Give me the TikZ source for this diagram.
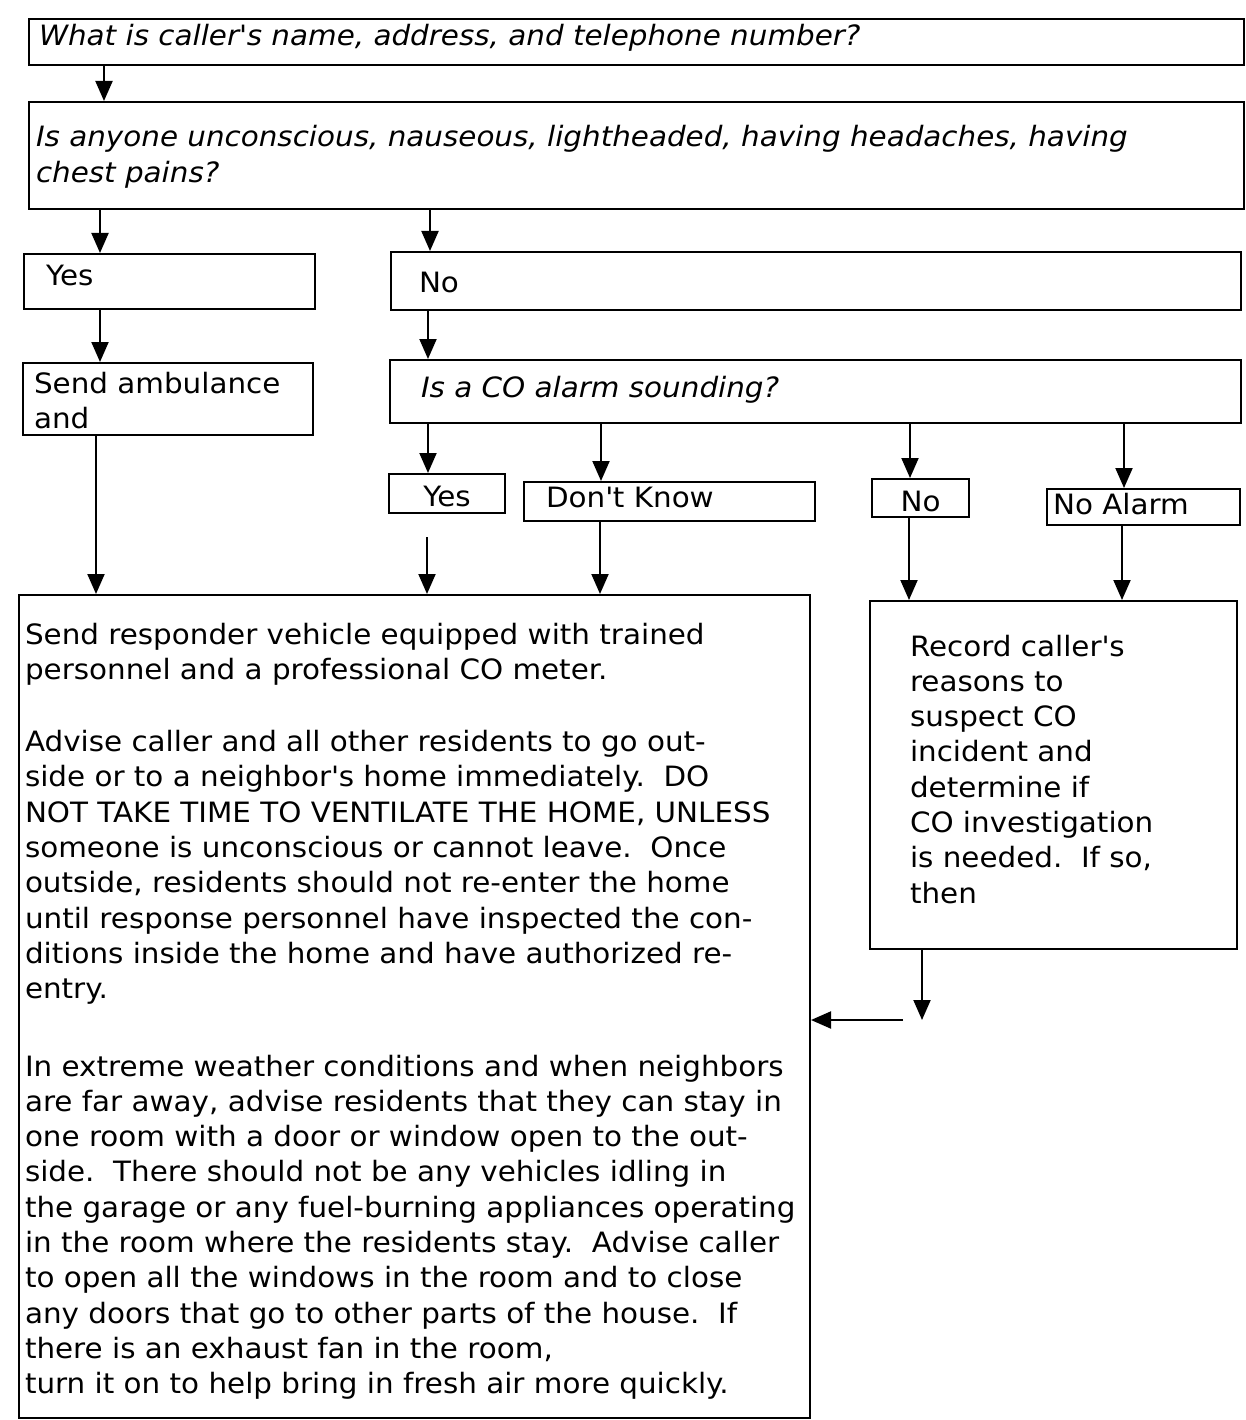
\documentclass[tikz,border=0pt]{standalone}
\usepackage{fontspec}
\setmainfont{DejaVu Sans}[FakeStretch=1.05]
\usetikzlibrary{arrows.meta}
\newcommand\apos{\textquotesingle}
\begin{document}
\begin{tikzpicture}[x=1pt, y=-1pt,
		base/.style={draw, line width=2pt, anchor=north west, inner ysep=0pt,
			align=left, font=\fontsize{28pt}{35.3pt}\selectfont},
		ask/.style={base, font=\fontsize{28pt}{35.3pt}\selectfont\itshape},
		link/.style={-{Triangle[length=20pt, width=17pt]}, draw, line width=2pt}
	]
	\useasboundingbox (0,0) rectangle (1245,1420);

	% questions
	\node[ask, minimum width=1215pt, minimum height=46pt, inner xsep=10pt,
		text width=1195pt, text height=26pt, text depth=18pt] at (28,18) (caller)
		{What is caller\apos s name, address, and telephone number?};
	\node[ask, minimum width=1215pt, minimum height=107pt, inner xsep=7pt,
		text width=1201pt, text height=44pt, text depth=61pt] at (28,101) (anyone)
		{Is anyone unconscious, nauseous, lightheaded, having headaches, having\\
		chest pains?};

	\node[base, minimum width=291pt, minimum height=55pt, inner xsep=22pt,
		text width=247pt, text height=31pt, text depth=22pt] at (23,253) (yes) {Yes};
	\node[base, minimum width=850pt, minimum height=58pt, inner xsep=28pt,
		text width=794pt, text height=40pt, text depth=16pt] at (390,251) (no) {No};
	\node[base, minimum width=290pt, minimum height=72pt, inner xsep=11pt,
		text width=268pt, text height=29pt, text depth=41pt] at (22,362) (ambulance)
		{Send ambulance\\and};
	\node[ask, minimum width=851pt, minimum height=63pt, inner xsep=31pt,
		text width=789pt, text height=36pt, text depth=25pt] at (389,359) (alarm)
		{Is a CO alarm sounding?};

	% answers to the alarm question
	\node[base, minimum width=116pt, minimum height=39pt, align=center,
		text height=31pt, text depth=6pt] at (388,473) (yesco) {Yes};
	\node[base, minimum width=291pt, minimum height=39pt, inner xsep=22pt,
		text width=247pt, text height=24.5pt, text depth=12.5pt] at (523,481) (dontknow)
		{Don\apos t Know};
	\node[base, minimum width=97pt, minimum height=38pt, align=center,
		text height=31pt, text depth=5pt] at (871,478) (noco) {No};
	\node[base, minimum width=193pt, minimum height=36pt, inner xsep=6pt,
		text width=181pt, text height=24pt, text depth=10pt] at (1046,488) (noalarm)
		{No Alarm};

	% actions
	\node[base, minimum width=791pt, minimum height=823pt, inner xsep=6pt,
		text width=779pt, text height=48pt, text depth=773pt] at (18,594) (respond)
		{Send responder vehicle equipped with trained\\
		personnel and a professional CO meter.\\[37pt]
		Advise caller and all other residents to go out-\\
		side or to a neighbor\apos s home immediately.\ \ DO\\
		NOT TAKE TIME TO VENTILATE THE HOME, UNLESS\\
		someone is unconscious or cannot leave.\ \ Once\\
		outside, residents should not re-enter the home\\
		until response personnel have inspected the con-\\
		ditions inside the home and have authorized re-\\
		entry.\\[42pt]
		In extreme weather conditions and when neighbors\\
		are far away, advise residents that they can stay in\\
		one room with a door or window open to the out-\\
		side.\ \ There should not be any vehicles idling in\\
		\mbox{the garage or any fuel-burning appliances operating}\\
		in the room where the residents stay.\ \ Advise caller\\
		to open all the windows in the room and to close\\
		any doors that go to other parts of the house.\ \ If\\
		there is an exhaust fan in the room,\\
		turn it on to help bring in fresh air more quickly.};
	\node[base, minimum width=367pt, minimum height=348pt, inner xsep=40pt,
		text width=287pt, text height=54pt, text depth=292pt] at (869,600) (record)
		{Record caller\apos s\\reasons to\\suspect CO\\incident and\\determine if\\
		CO investigation\\is needed.\ \ If so,\\then};

	\coordinate (thenend) at (922,1020);
	\coordinate (thenstart) at (903,1020);

	% connectors
	\draw[link] (caller.south -| 104,0) -- (anyone.north -| 104,0);
	\draw[link] (anyone.south -| 100,0) -- (yes.north -| 100,0);
	\draw[link] (anyone.south -| 430,0) -- (no.north -| 430,0);
	\draw[link] (yes.south -| 100,0) -- (ambulance.north -| 100,0);
	\draw[link] (no.south -| 428,0) -- (alarm.north -| 428,0);
	\foreach \x/\answer in {428/yesco, 601/dontknow, 910/noco, 1124/noalarm}
		\draw[link] (alarm.south -| \x,0) -- (\answer.north -| \x,0);

	\draw[link] (ambulance.south -| 96,0) -- (respond.north -| 96,0);
	\draw[link] ([yshift=-23pt]yesco.south -| 427,0) -- (respond.north -| 427,0);
	\draw[link] (dontknow.south -| 600,0) -- (respond.north -| 600,0);
	\draw[link] (noco.south -| 909,0) -- (record.north -| 909,0);
	\draw[link] (noalarm.south -| 1122,0) -- (record.north -| 1122,0);

	\draw[link] (record.south -| thenend) -- (thenend);
	\draw[link] (thenstart) -- (respond.east |- thenstart);
\end{tikzpicture}
\end{document}
